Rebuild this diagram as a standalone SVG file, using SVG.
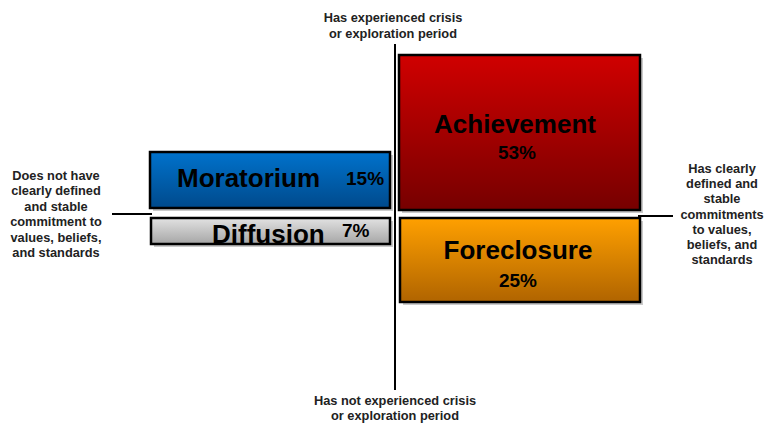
<svg xmlns="http://www.w3.org/2000/svg" width="772" height="424" viewBox="0 0 772 424">
<defs>
<linearGradient id="gRed" x1="0" y1="0" x2="0" y2="1"><stop offset="0" stop-color="#d00000"/><stop offset="1" stop-color="#760000"/></linearGradient>
<linearGradient id="gOrange" x1="0" y1="0" x2="0" y2="1"><stop offset="0" stop-color="#ffa000"/><stop offset="1" stop-color="#b06400"/></linearGradient>
<linearGradient id="gBlue" x1="0" y1="0" x2="0" y2="1"><stop offset="0" stop-color="#0072cc"/><stop offset="1" stop-color="#004a8c"/></linearGradient>
<linearGradient id="gGray" x1="0" y1="0" x2="0" y2="1"><stop offset="0" stop-color="#e2e2e2"/><stop offset="1" stop-color="#a6a6a6"/></linearGradient>
</defs>
<style>
.box{stroke:#000;stroke-width:2.5}
.shadow{fill:#8a8a8a;opacity:0.45}
.axis{stroke:#000;stroke-width:2;fill:none}
.lbl{font-family:"Liberation Sans",Arial,sans-serif;font-weight:bold;font-size:26px;fill:#000}
.pct{font-family:"Liberation Sans",Arial,sans-serif;font-weight:bold;font-size:19px;fill:#000}
.ax{font-family:"Liberation Sans",Arial,sans-serif;font-weight:bold;font-size:12.8px;fill:#222;text-anchor:middle}
</style>
<g id="connectors">
<line class="axis" x1="395" y1="44" x2="395" y2="390"/>
<line class="axis" x1="112" y1="214" x2="152" y2="214"/>
<line class="axis" x1="638" y1="216" x2="673" y2="216"/>
</g>
<g id="achievement">
<rect class="shadow" x="402" y="58" width="241" height="155"/>
<rect class="box" x="399" y="55" width="241" height="155" fill="url(#gRed)"/>
<text class="lbl" x="515" y="133" text-anchor="middle">Achievement</text>
<text class="pct" x="517" y="159" text-anchor="middle">53%</text>
</g>
<g id="foreclosure">
<rect class="shadow" x="403" y="221" width="240" height="84"/>
<rect class="box" x="400" y="218" width="240" height="84" fill="url(#gOrange)"/>
<text class="lbl" x="518" y="259" text-anchor="middle">Foreclosure</text>
<text class="pct" x="518" y="287" text-anchor="middle">25%</text>
</g>
<g id="moratorium">
<rect class="shadow" x="153" y="155" width="240" height="56"/>
<rect class="box" x="150" y="152" width="240" height="56" fill="url(#gBlue)"/>
<text class="lbl" x="177" y="187">Moratorium</text>
<text class="pct" x="346" y="185">15%</text>
</g>
<g id="diffusion">
<rect class="shadow" x="154" y="221" width="239" height="26"/>
<rect x="151" y="218" width="239" height="26" fill="url(#gGray)"/>
<text class="lbl" x="212" y="243">Diffusion</text>
<text class="pct" x="342" y="237">7%</text>
<rect class="box" x="151" y="218" width="239" height="26" fill="none"/>
</g>
<g id="label-top">
<text class="ax" x="393" y="22">Has experienced crisis</text>
<text class="ax" x="393" y="38">or exploration period</text>
</g>
<g id="label-bottom">
<text class="ax" x="395" y="405">Has not experienced crisis</text>
<text class="ax" x="395" y="420">or exploration period</text>
</g>
<g id="label-left">
<text class="ax" x="56" y="180">Does not have</text>
<text class="ax" x="56" y="195.4">clearly defined</text>
<text class="ax" x="56" y="210.8">and stable</text>
<text class="ax" x="56" y="226.2">commitment to</text>
<text class="ax" x="56" y="241.6">values, beliefs,</text>
<text class="ax" x="56" y="257">and standards</text>
</g>
<g id="label-right">
<text class="ax" x="722" y="173">Has clearly</text>
<text class="ax" x="722" y="188.2">defined and</text>
<text class="ax" x="722" y="203.4">stable</text>
<text class="ax" x="722" y="218.6">commitments</text>
<text class="ax" x="722" y="233.8">to values,</text>
<text class="ax" x="722" y="249">beliefs, and</text>
<text class="ax" x="722" y="264.2">standards</text>
</g>
</svg>
